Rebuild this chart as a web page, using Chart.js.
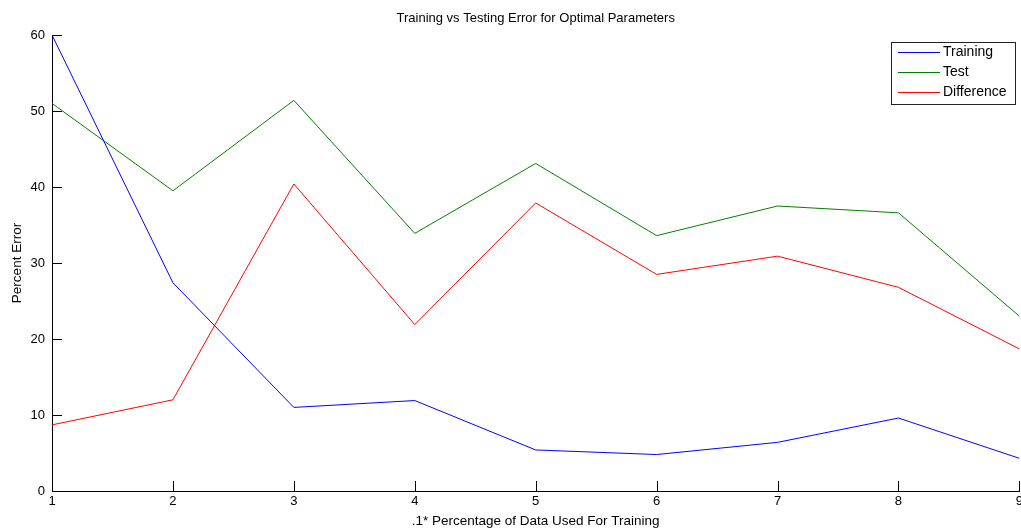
<!DOCTYPE html>
<html>
<head>
<meta charset="utf-8">
<script src="https://cdn.jsdelivr.net/npm/chart.js@4"></script>
<style>
  html, body { margin: 0; padding: 0; background: #fff; overflow: hidden; }
  #wrap { width: 1026px; height: 530px; }
</style>
</head>
<body>
<div id="wrap"><canvas id="graph" width="1026" height="530"></canvas></div>
<script>
// fraction of data used for training (x .1)
let steps = [1, 2, 3, 4, 5, 6, 7, 8, 9];
let training = [60, 27.4, 11.0, 11.9, 5.4, 4.8, 6.4, 9.6, 4.3];
let test = [51.0, 39.5, 51.4, 33.9, 43.1, 33.6, 37.5, 36.6, 23.0];
let difference = [8.7, 12.0, 40.4, 21.9, 37.9, 28.5, 30.9, 26.8, 18.7];

let yTicks = [0, 10, 20, 30, 40, 50, 60];

const font = "Liberation Sans, Arial, sans-serif";

function pts(vals) {
  return steps.map((s, i) => ({ x: s, y: vals[i] }));
}

const data = {
  datasets: [
    { label: "Training", data: pts(training), borderColor: "#0000ff" },
    { label: "Test", data: pts(test), borderColor: "#008000" },
    { label: "Difference", data: pts(difference), borderColor: "#ff0000" }
  ]
};
data.datasets.forEach(d => {
  d.borderWidth = 1;
  d.pointRadius = 0;
  d.fill = false;
  d.tension = 0;
});

// matlab style: ticks pointing inward + legend box in the corner
const matlabBits = {
  id: "matlabBits",
  afterDatasetsDraw(chart) {
    const ctx = chart.ctx;
    const area = chart.chartArea;
    const xs = chart.scales.x;
    const ys = chart.scales.y;
    ctx.save();
    ctx.fillStyle = "#000";
    yTicks.forEach(v => {
      let y = Math.round(ys.getPixelForValue(v));
      ctx.fillRect(area.left, y, 10, 1);
    });
    steps.forEach(v => {
      let x = Math.round(xs.getPixelForValue(v));
      ctx.fillRect(x, area.bottom - 10, 1, 10);
    });

    // legend
    ctx.font = "14px " + font;
    let n = chart.data.datasets.length;
    let tw = 0;
    for (let i = 0; i < n; i++) {
      tw = Math.max(tw, ctx.measureText(chart.data.datasets[i].label).width);
    }
    let w = Math.round(7 + 42 + 3 + tw + 8);
    let h = 62;
    let bx = Math.round(area.right - 4 - w);
    let by = Math.round(area.top + 7);
    ctx.fillStyle = "#222";
    ctx.fillRect(bx, by, w + 1, h + 1);
    ctx.fillStyle = "#fff";
    ctx.fillRect(bx + 1, by + 1, w - 1, h - 1);
    for (let i = 0; i < n; i++) {
      let y = by + 10 + i * 20;
      let meta = chart.getDatasetMeta(i);
      ctx.fillStyle = meta.dataset.options.borderColor;
      ctx.fillRect(bx + 7, y, 42, 1);
      ctx.fillStyle = "#000";
      ctx.textBaseline = "middle";
      ctx.textAlign = "left";
      ctx.fillText(chart.data.datasets[i].label, bx + 52, y + 0.5);
    }
    ctx.restore();
  }
};

const config = {
  type: "line",
  data: data,
  options: {
    responsive: false,
    animation: false,
    layout: { padding: 0 },
    plugins: {
      legend: { display: false },
      tooltip: { enabled: false },
      title: {
        display: true,
        fullSize: false,
        text: "Training vs Testing Error for Optimal Parameters",
        color: "#000",
        font: { family: font, size: 13, weight: "normal" },
        padding: { top: 10.2, bottom: 9.2 }
      }
    },
    scales: {
      x: {
        type: "linear",
        min: 1,
        max: 9,
        afterFit: s => { s.height = 39; },
        afterBuildTicks: s => { s.ticks = steps.map(v => ({ value: v })); },
        grid: { display: false, drawTicks: false },
        border: { display: true, color: "#000", width: 1 },
        ticks: { color: "#000", padding: 3, maxRotation: 0, font: { family: font, size: 13 } },
        title: {
          display: true,
          text: ".1* Percentage of Data Used For Training",
          color: "#000",
          font: { family: font, size: 13.5 },
          padding: { top: 0, bottom: 0.9 }
        }
      },
      y: {
        min: 0,
        max: 60,
        afterFit: s => { s.width = 52; },
        afterBuildTicks: s => { s.ticks = yTicks.map(v => ({ value: v })); },
        grid: { display: false, drawTicks: false },
        border: { display: true, color: "#000", width: 1 },
        ticks: { color: "#000", padding: 7, font: { family: font, size: 13 } },
        title: {
          display: true,
          text: "Percent Error",
          color: "#000",
          font: { family: font, size: 13.5 },
          padding: { top: 8.9, bottom: 0 }
        }
      }
    }
  },
  plugins: [matlabBits]
};

new Chart(document.getElementById("graph"), config);
</script>
</body>
</html>
